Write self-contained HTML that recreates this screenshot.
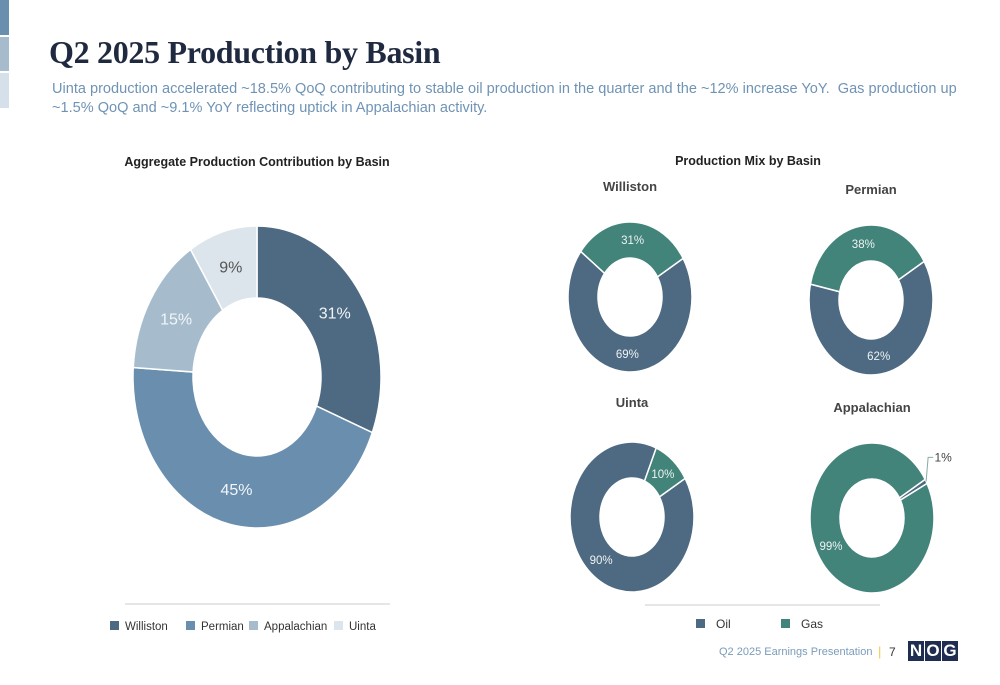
<!DOCTYPE html>
<html><head><meta charset="utf-8"><style>
body{margin:0;width:1000px;height:685px;overflow:hidden;background:#fff;font-family:"Liberation Sans",sans-serif;position:relative}
.abs{position:absolute;white-space:nowrap}
</style></head><body>
<div class="abs" style="left:0;top:0;width:9px;height:35px;background:#6a8fae"></div>
<div class="abs" style="left:0;top:37px;width:9px;height:34px;background:#a6bccd"></div>
<div class="abs" style="left:0;top:73px;width:9px;height:35px;background:#d6e0ea"></div>
<div class="abs" style="left:49px;top:34px;font-family:'Liberation Serif',serif;font-weight:bold;font-size:32px;letter-spacing:-0.3px;color:#1f2a40">Q2 2025 Production by Basin</div>
<div class="abs" style="left:52px;top:80px;font-size:14.55px;line-height:19px;color:#6f93b5">Uinta production accelerated ~18.5% QoQ contributing to stable oil production in the quarter and the ~12% increase YoY.&nbsp; Gas production up<br>~1.5% QoQ and ~9.1% YoY reflecting uptick in Appalachian activity.</div>
<svg id="chart" width="1000" height="685" style="position:absolute;left:0;top:0"></svg>
<div class="abs" style="left:719px;top:646px;font-size:11px;color:#7a9cba">Q2 2025 Earnings Presentation</div>
<div class="abs" style="left:878px;top:644px;font-size:13px;color:#f2c94c">|</div>
<div class="abs" style="left:889px;top:645px;font-size:12px;color:#333">7</div>
<div class="abs" style="left:908px;top:641px;display:flex;gap:1px">
<span style="background:#1f2d50;color:#fff;font-weight:bold;font-size:17px;width:16px;height:20px;text-align:center;line-height:20px">N</span><span style="background:#1f2d50;color:#fff;font-weight:bold;font-size:17px;width:16px;height:20px;text-align:center;line-height:20px">O</span><span style="background:#1f2d50;color:#fff;font-weight:bold;font-size:17px;width:16px;height:20px;text-align:center;line-height:20px">G</span></div>
<script>
const basins=["Williston","Permian","Appalachian","Uinta"];
const basinShare=[31,45,15,9];
const basinColors=["#4d6a82","#6a8fae","#a6bccd","#dce4ec"];
const mixBasins=["Williston","Permian","Uinta","Appalachian"];
const oilShare=[69,62,90,1];
const gasShare=[31,38,10,99];
const svg=document.getElementById('chart');
const NS='http://www.w3.org/2000/svg';
function mk(tag,attrs){const e=document.createElementNS(NS,tag);for(const k in attrs)e.setAttribute(k,attrs[k]);svg.appendChild(e);return e;}
function pt(cx,cy,rx,ry,a){const r=a*Math.PI/180;return [cx+rx*Math.sin(r),cy-ry*Math.cos(r)];}
function arc(cx,cy,rx,ry,irx,iry,a0,a1){
 const large=(a1-a0)>180?1:0;
 const p0=pt(cx,cy,rx,ry,a0),p1=pt(cx,cy,rx,ry,a1),q1=pt(cx,cy,irx,iry,a1),q0=pt(cx,cy,irx,iry,a0);
 return `M${p0}A${rx},${ry} 0 ${large} 1 ${p1}L${q1}A${irx},${iry} 0 ${large} 0 ${q0}Z`;
}
function txt(x,y,s,size,fill,weight,name){const t=mk('text',{x:x,y:y,'font-size':size,fill:fill,'text-anchor':'middle','font-family':'Liberation Sans, sans-serif','font-weight':weight||'normal'});t.textContent=s;return t;}
{const cx=257,cy=377,rx=124,ry=151,irx=64,iry=79;let a=0;
basinShare.forEach((v,i)=>{const a1=a+v*3.6;const p=mk('path',{d:arc(cx,cy,rx,ry,irx,iry,a,a1),fill:basinColors[i],stroke:'#fff','stroke-width':1.5});

const m=pt(cx,cy,(rx+irx)/2,(ry+iry)/2,(a+a1)/2);txt(m[0],m[1]+6,v+'%',16,i==3?'#555':'#f2f5f8','normal','label-'+basins[i].toLowerCase());a=a1;});}
txt(257,166,'Aggregate Production Contribution by Basin',12.5,'#222','bold','left-chart-title');
mk('line',{x1:125,y1:604,x2:390,y2:604,stroke:'#ddd','stroke-width':1.5});
const lx=[110,186,249,334];
basins.forEach((b,i)=>{const r=mk('rect',{x:lx[i],y:621,width:9,height:9,fill:basinColors[i]});
const t=mk('text',{x:lx[i]+15,y:630,'font-size':11.5,fill:'#333','font-family':'Liberation Sans, sans-serif'});t.textContent=b;});
txt(748,165,'Production Mix by Basin',12.5,'#222','bold','right-chart-title');
const centers=[[630,297],[871,300],[632,517],[872,518]];
const titleY=[191,194,407,412];
const OIL='#4d6a82',GAS='#42837a';
mixBasins.forEach((b,i)=>{const [cx,cy]=centers[i];const rx=62,ry=75,irx=32,iry=39;
txt(cx,titleY[i],b,13,'#444','bold','title-'+b.toLowerCase());
const s=59,o1=s+oilShare[i]*3.6,g1=o1+gasShare[i]*3.6;
const po=mk('path',{d:arc(cx,cy,rx,ry,irx,iry,s,o1),fill:OIL,stroke:'#fff','stroke-width':1.5});
const pg=mk('path',{d:arc(cx,cy,rx,ry,irx,iry,o1,g1),fill:GAS,stroke:'#fff','stroke-width':1.5});
[[s,o1,oilShare[i],'oil'],[o1,g1,gasShare[i],'gas']].forEach(([a0,a1,v,k])=>{
 if(v<3){const m=pt(cx,cy,rx,ry,(a0+a1)/2);const e=[m[0]+2,m[1]-24];mk('polyline',{points:`${m} ${e} ${e[0]+5},${e[1]}`,fill:'none',stroke:'#8aa','stroke-width':1});txt(e[0]+15,e[1]+4,v+'%',12,'#444','normal','label-'+k+'-'+b.toLowerCase());}
 else{const m=pt(cx,cy,(rx+irx)/2,(ry+iry)/2,(a0+a1)/2);txt(m[0],m[1]+4,v+'%',11.5,'#eef3f3','normal','label-'+k+'-'+b.toLowerCase());}
});});
mk('line',{x1:645,y1:605,x2:880,y2:605,stroke:'#ddd','stroke-width':1.5});
[['Oil',696,OIL],['Gas',781,GAS]].forEach(([n,x,c])=>{const r=mk('rect',{x:x,y:619,width:9,height:9,fill:c});
const t=mk('text',{x:x+20,y:628,'font-size':12,fill:'#333','font-family':'Liberation Sans, sans-serif'});t.textContent=n;});
</script>
</body></html>
